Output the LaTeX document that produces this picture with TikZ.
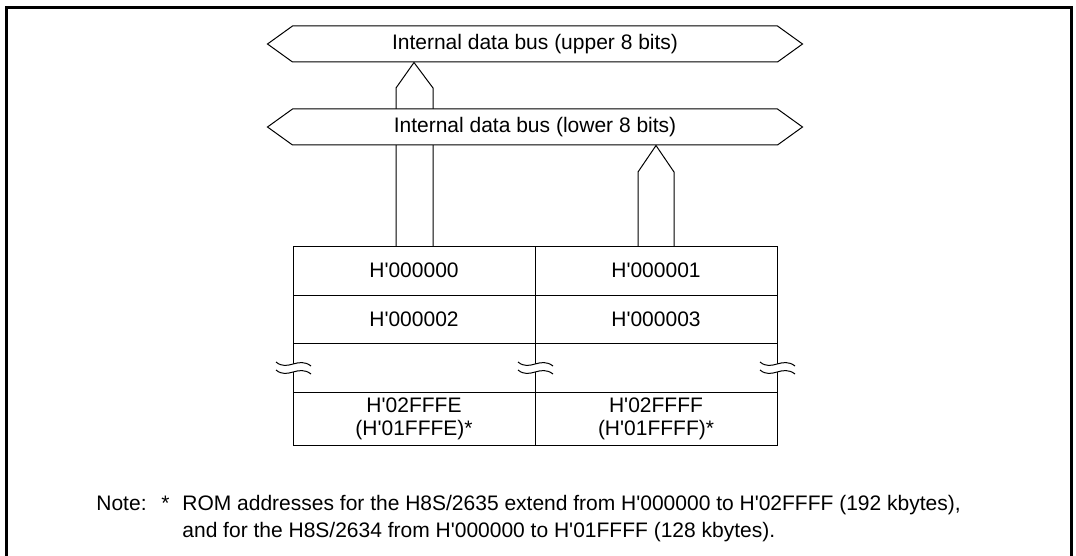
\documentclass[tikz,border=0pt]{standalone}
\usepackage{fontspec}
\setmainfont{Liberation Sans}[Ligatures=TeXOff]
\usetikzlibrary{shapes.symbols,backgrounds}

\begin{document}
\begin{tikzpicture}[x=0.5pt,y=-0.5pt,font=\fontsize{10.5}{11.5}\selectfont,
    bus/.style={signal,signal to=west and east,signal pointer angle=71.5,draw,fill=white,
      line width=0.5pt,minimum width=267.5pt,minimum height=18pt,inner sep=0pt},
    cell/.style={draw,line width=0.5pt,minimum width=121pt,inner sep=0pt,outer sep=0pt,align=center},
    busline/.style={draw,line width=0.5pt},
    note/.style={anchor=base west,inner sep=0pt}]
    \useasboundingbox (0,0) rectangle (1076,556);
    \draw[line width=1.5pt] (6,556) -- (6,7.5) -- (1071,7.5) -- (1071,556);
    % the two halves of the data bus
    \node[bus] (upper) at (535,44) {Internal data bus (upper 8 bits)};
    \node[bus] (lower) at (535,127) {Internal data bus (lower 8 bits)};
    % ROM words
    \node[cell,minimum height=24.5pt] (a0) at (414,270.5) {H'000000};
    \node[cell,minimum height=24.5pt] (b0) at (656,270.5) {H'000001};
    \node[cell,minimum height=24pt] (a1) at (414,319) {H'000002};
    \node[cell,minimum height=24pt] (b1) at (656,319) {H'000003};
    \node[cell,minimum height=24.5pt] (a2) at (414,367.5) {};
    \node[cell,minimum height=24.5pt] (b2) at (656,367.5) {};
    \node[cell,minimum height=26.5pt] (a3) at (414,418.5) {H'02FFFE\\(H'01FFFE)*};
    \node[cell,minimum height=26.5pt] (b3) at (656,418.5) {H'02FFFF\\(H'01FFFF)*};
    \begin{scope}[on background layer]
      \path[busline] (396,0 |- a0.north) -- (396,88) -- (414,0 |- upper.south) -- (433,88) -- (433,0 |- a0.north);
      \path[busline] (638,0 |- b0.north) -- (638,172) -- (656,0 |- lower.south) -- (674,172) -- (674,0 |- b0.north);
    \end{scope}
    % break marks
    \foreach \bx in {293,535,777} {
      \fill[white] (\bx-17,362) .. controls (\bx-5,372) and (\bx+5,356) .. (\bx+18,366)
        -- (\bx+18,374) .. controls (\bx+5,364) and (\bx-5,380) .. (\bx-17,370) -- cycle;
      \draw[line width=0.5pt] (\bx-17,362) .. controls (\bx-5,372) and (\bx+5,356) .. (\bx+18,366);
      \draw[line width=0.5pt] (\bx-17,370) .. controls (\bx-5,380) and (\bx+5,364) .. (\bx+18,374);
    }
    \node[note] (note) at (96,510.5) {Note:};
    \node[note] (star) at (161,510.5) {*};
    \node[note] (rom1) at (182,510.5) {ROM addresses for the H8S/2635 extend from H'000000 to H'02FFFF (192 kbytes),};
    \node[note] (rom2) at (182,537.5) {and for the H8S/2634 from H'000000 to H'01FFFF (128 kbytes).};
\end{tikzpicture}
\end{document}
